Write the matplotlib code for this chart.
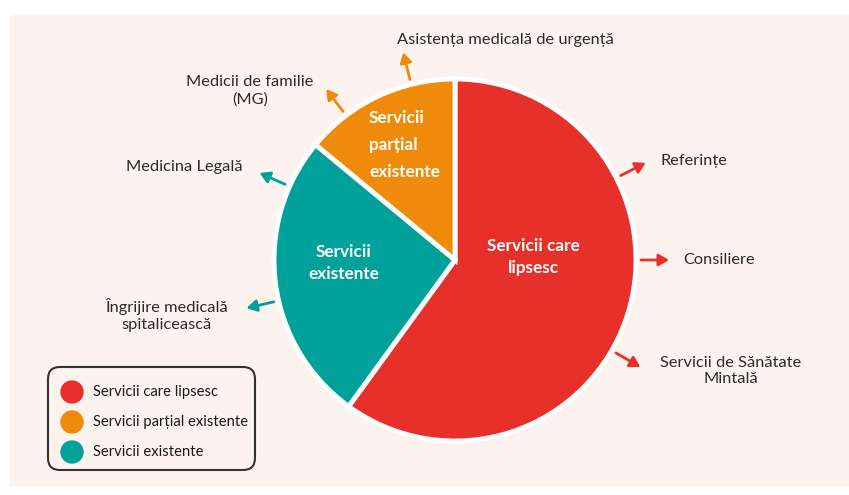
import numpy as np
import matplotlib.pyplot as plt
from matplotlib.patches import FancyBboxPatch, Circle, Rectangle

plt.rcParams['font.family'] = ['Lato', 'DejaVu Sans']

# Date
categorii = ['Servicii care lipsesc', 'Servicii existente', 'Servicii parțial existente']
valori = [60, 26, 14]
culori = ['#e8302a', '#00a19a', '#f08a0b']
etichete_interne = ['Servicii care\nlipsesc', 'Servicii\nexistente', 'Servicii\nparțial\nexistente']

servicii = ['Asistența medicală de urgență', 'Medicii de familie\n(MG)', 'Medicina Legală',
            'Îngrijire medicală\nspitalicească', 'Referințe', 'Consiliere',
            'Servicii de Sănătate\nMintală']
categorie_serviciu = [2, 2, 1, 1, 0, 0, 0]
unghiuri = [104, 127, 156, 193, 27, 0, -30]

ordine_legenda = [0, 2, 1]

W, H = 849, 495
fig = plt.figure(figsize=(W / 100, H / 100), dpi=100)
ax = fig.add_axes([0, 0, 1, 1])

def py(y):
    return H - y

ax.add_patch(Rectangle((10, py(485)), W - 10, 470, color='#fdf3ee', zorder=0))

cx, cy, r = 455, py(260), 181
ax.pie(valori, colors=culori, startangle=90, counterclock=False,
       center=(cx, cy), radius=r, frame=True,
       wedgeprops=dict(edgecolor='white', linewidth=3.5))
ax.set_xlim(0, W)
ax.set_ylim(0, H)
ax.set_aspect('equal')
ax.axis('off')

# etichete in felii
ax.text(533, py(257), etichete_interne[0], ha='center', va='center', color='white',
        fontsize=12.3, fontweight='bold', linespacing=1.4)
ax.text(344, py(263), etichete_interne[1], ha='center', va='center', color='white',
        fontsize=12.3, fontweight='bold', linespacing=1.4)
ax.text(369, py(145), etichete_interne[2], ha='left', va='center', color='white',
        fontsize=12.3, fontweight='bold', linespacing=1.85)

# sageti si servicii
pozitii_text = [(505, 40, 'center'), (250, 91, 'center'), (184, 167, 'center'),
                (167, 315, 'center'), (661, 161, 'left'), (683, 260, 'left'),
                (731, 371, 'center')]
for s, c, a, (tx, ty, ha) in zip(servicii, categorie_serviciu, unghiuri, pozitii_text):
    t = np.deg2rad(a)
    x0, y0 = cx + 186 * np.cos(t), cy + 186 * np.sin(t)
    x1, y1 = cx + 214 * np.cos(t), cy + 214 * np.sin(t)
    ax.annotate('', xy=(x1, y1), xytext=(x0, y0),
                arrowprops=dict(arrowstyle='-|>,head_length=0.6,head_width=0.35',
                                color=culori[c], lw=2, shrinkA=0, shrinkB=0))
    ax.text(tx, py(ty), s, ha=ha, va='center', color='#2b2b2b', fontsize=11.8,
            linespacing=1.25)

# legenda
ax.add_patch(FancyBboxPatch((48, py(470)), 207, 103,
                            boxstyle='round,pad=0,rounding_size=12',
                            facecolor='none', edgecolor='#333333', lw=1.5, zorder=3))
for k, i in enumerate(ordine_legenda):
    yy = py(392 + 30 * k)
    ax.add_patch(Circle((72, yy), 11, color=culori[i], zorder=4))
    ax.text(93, yy, categorii[i], ha='left', va='center', color='#1a1a1a', fontsize=10.6)

fig.savefig('out.png', dpi=100, facecolor='white')
